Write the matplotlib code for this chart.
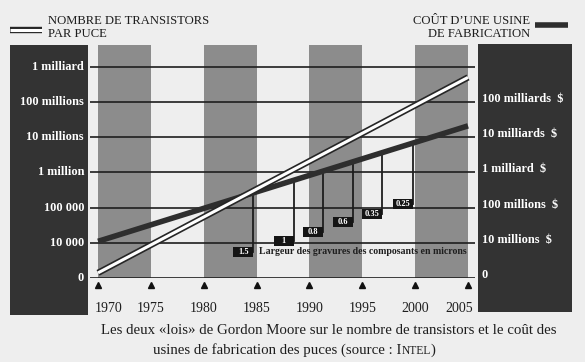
import numpy as np
import matplotlib
matplotlib.use("Agg")
import matplotlib.pyplot as plt
from matplotlib import transforms
from matplotlib.lines import Line2D
from matplotlib.patches import Rectangle

plt.rcParams['font.family'] = ['Liberation Serif', 'DejaVu Serif']

W, H = 585, 362
ink = '#1e1e1e'
page = '#eeeeee'
stripe_col = '#8c8c8c'
panel_col = '#333333'

##############################################################################
# data

line_years = [1970, 2005]
transistors = [1.4e3, 5.0e8]          # per chip
fab_cost = [1.1e7, 2.1e10]            # dollars

left_ticks = [1e3, 1e4, 1e5, 1e6, 1e7, 1e8, 1e9]
left_labels = ["0", "10 000", "100 000", "1 million", "10 millions",
               "100 millions", "1 milliard"]
right_ticks = [1e6, 1e7, 1e8, 1e9, 1e10, 1e11]
right_labels = ["0", "10 millions  $", "100 millions  $", "1 milliard  $",
                "10 milliards  $", "100 milliards  $"]

year_ticks = [1970, 1975, 1980, 1985, 1990, 1995, 2000, 2005]
stripes = [(1970, 1975), (1980, 1985), (1990, 1995), (2000, 2005)]

node_years = [1984.7, 1988.5, 1991.3, 1994.1, 1996.9, 1999.8]
node_labels = ["1.5", "1", "0.8", "0.6", "0.35", "0.25"]
node_box_level = [5.5e3, 1.1e4, 2.0e4, 3.9e4, 6.6e4, 1.3e5]   # left scale

##############################################################################

fig = plt.figure(figsize=(W / 100, H / 100), dpi=100, facecolor=page)

# dark side panels
fig.add_artist(Rectangle((10 / W, 1 - 315 / H), 78 / W, 270 / H,
                         transform=fig.transFigure, fc=panel_col, ec='none'))
fig.add_artist(Rectangle((478 / W, 1 - 312 / H), 94 / W, 268 / H,
                         transform=fig.transFigure, fc=panel_col, ec='none'))

ax = fig.add_axes([90 / W, 1 - 278 / H, 385 / W, 233 / H])
ax2 = ax.twinx()
ax.set_zorder(2)
ax2.set_zorder(1)
ax.patch.set_visible(False)
ax2.patch.set_visible(True)
ax2.patch.set_facecolor(page)

top = 10 ** (233 / 35.2)
ax.set_yscale('log')
ax2.set_yscale('log')
ax.set_ylim(1e3, 1e3 * top)
ax2.set_ylim(1e6, 1e6 * top)
ax.set_xlim(1969.24, 2005.66)

for a in (ax, ax2):
    for s in a.spines.values():
        s.set_visible(False)
    a.set_xticks([])
    a.set_yticks([])
    a.minorticks_off()
    a.tick_params(which='both', left=False, right=False, labelleft=False,
                  labelright=False)

for x0, x1 in stripes:
    ax2.axvspan(x0, x1, color=stripe_col, lw=0, zorder=0)
for t in right_ticks + [1e12]:
    ax2.axhline(t, color=ink, lw=1.2, zorder=1)

# cost line (right scale)
ax2.plot(line_years, fab_cost, color='#2e2e2e', lw=4.0,
         solid_capstyle='butt', zorder=3)

# feature size drop lines and boxes
log_cost = np.log10(fab_cost)
box_tr = transforms.offset_copy(ax2.transData, fig=fig, x=-10, units='dots')
box_shape = [(-1, -0.5), (1, -0.5), (1, 0.5), (-1, 0.5), (-1, -0.5)]
for yr, lab, lvl in zip(node_years, node_labels, node_box_level):
    c = 10 ** np.interp(yr, line_years, log_cost)
    ax2.plot([yr, yr], [lvl * 1000, c], color=ink, lw=1.3, zorder=2)
    ax2.plot([yr], [lvl * 1000], marker=box_shape, ms=14.5, color='#151515',
             mew=0, transform=box_tr, zorder=4)
    ax2.text(yr, lvl * 1000, lab, transform=box_tr, ha='center', va='center',
             color='white', fontsize=6, fontweight='bold', zorder=5)

ax2.text(node_years[0], node_box_level[0] * 1000,
         "Largeur des gravures des composants en microns",
         transform=transforms.offset_copy(ax2.transData, fig=fig, x=6,
                                          units='dots'),
         ha='left', va='center', color=ink, fontsize=7.1, fontweight='bold',
         zorder=5)

# transistor line (left scale), double stroke
ax.plot(line_years, transistors, color='#262626', lw=4.6, solid_capstyle='butt')
ax.plot(line_years, transistors, color='white', lw=2.2, solid_capstyle='butt')

# axis labels in the dark panels
tl = transforms.blended_transform_factory(fig.transFigure, ax.transData)
for v, s in zip(left_ticks, left_labels):
    fig.text(84 / W, v, s, transform=tl, ha='right', va='center',
             color='white', fontsize=8.8, fontweight='bold')
tr = transforms.blended_transform_factory(
    fig.transFigure,
    transforms.offset_copy(ax2.transData, fig=fig, y=3, units='dots'))
for v, s in zip(right_ticks, right_labels):
    fig.text(482 / W, v, s, transform=tr, ha='left', va='center',
             color='white', fontsize=8.8, fontweight='bold')

# year markers
tx = transforms.blended_transform_factory(ax.transData, fig.transFigure)
ax.plot(year_ticks, [1 - 285 / H] * len(year_ticks), '^', color='#111111',
        ms=5, transform=tx, clip_on=False)
for i, y in enumerate(year_ticks):
    ha, xx = 'center', y
    if i == 0:
        ha, xx = 'left', y - 0.3
    elif i == len(year_ticks) - 1:
        ha, xx = 'right', y + 0.5
    fig.text(xx, 1 - 308 / H, str(y), transform=tx, ha=ha, va='center',
             color=ink, fontsize=10)

# legends
fig.add_artist(Line2D([10 / W, 42 / W], [1 - 30 / H] * 2, transform=fig.transFigure,
                      color='#262626', lw=4.6, solid_capstyle='butt'))
fig.add_artist(Line2D([10 / W, 42 / W], [1 - 30 / H] * 2, transform=fig.transFigure,
                      color='white', lw=2.2, solid_capstyle='butt'))
fig.text(48 / W, 1 - 21 / H, "NOMBRE DE TRANSISTORS", ha='left', va='center',
         color=ink, fontsize=9.1)
fig.text(48 / W, 1 - 34 / H, "PAR PUCE", ha='left', va='center',
         color=ink, fontsize=9.1)
fig.add_artist(Line2D([535 / W, 568 / W], [1 - 25 / H] * 2, transform=fig.transFigure,
                      color='#2e2e2e', lw=4.0, solid_capstyle='butt'))
fig.text(530 / W, 1 - 21 / H, "COÛT D’UNE USINE", ha='right', va='center',
         color=ink, fontsize=9.1)
fig.text(530 / W, 1 - 34 / H, "DE FABRICATION", ha='right', va='center',
         color=ink, fontsize=9.1)

# caption
fig.text(101 / W, 1 - 330 / H,
         "Les deux «lois» de Gordon Moore sur le nombre de transistors et le coût des",
         ha='left', va='center', color=ink, fontsize=10.7)

renderer = fig.canvas.get_renderer()
x = 153 / W
for s, size in [("usines de fabrication des puces (source : I", 10.7),
                ("NTEL", 8.3), (")", 10.7)]:
    t = fig.text(x, 1 - 354 / H, s, ha='left', va='baseline', color=ink,
                 fontsize=size)
    x = t.get_window_extent(renderer=renderer).x1 / W

fig.savefig("out.png", dpi=100, facecolor=page)
